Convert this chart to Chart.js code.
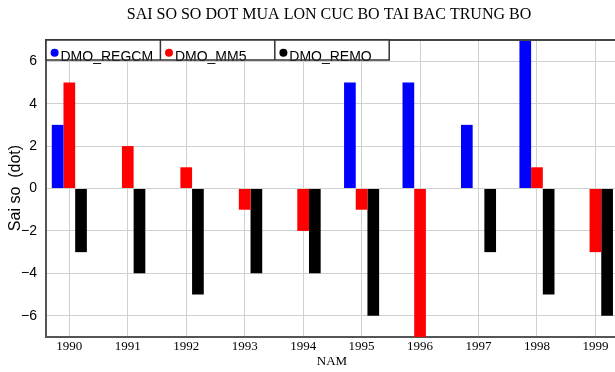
<!DOCTYPE html>
<html>
<head>
<meta charset="utf-8">
<script src="https://cdn.jsdelivr.net/npm/chart.js@4"></script>
<style>
  html, body { margin: 0; padding: 0; background: #fff; }
  #wrap { width: 615px; height: 372px; }
</style>
</head>
<body>
<div id="wrap"><canvas id="c" width="615" height="372"></canvas></div>
<script>
// Error of heavy-rain episode counts, North Central Coast (Bac Trung Bo)
const years = [1990, 1991, 1992, 1993, 1994, 1995, 1996, 1997, 1998, 1999];
const regcm = [3, 0, 0, 0, 0, 5, 5, 3, 7, 0];
const mm5   = [5, 2, 1, -1, -2, -1, -7, 0, 1, -3];
const remo  = [-3, -4, -5, -4, -4, -6, 0, -3, -5, -6];
const yTicks = [-6, -4, -2, 0, 2, 4, 6];
const seriesNames = ['DMO_REGCM', 'DMO_MM5', 'DMO_REMO'];
const seriesColors = ['#0000ff', '#ff0000', '#000000'];
const titleText = 'SAI SO SO DOT MUA LON CUC BO TAI BAC TRUNG BO';
const xTitle = 'NAM';
const yTitle = 'Sai so  (dot)';

const toPoints = arr => arr.map((v, i) => ({ x: years[i], y: v }));

const frame = {
  id: 'frame',
  afterDatasetsDraw(chart) {
    const { ctx, chartArea: a } = chart;
    ctx.save();
    // top border of plot
    ctx.strokeStyle = '#444';
    ctx.lineWidth = 2;
    ctx.beginPath();
    ctx.moveTo(a.left - 1, a.top);
    ctx.lineTo(a.right, a.top);
    ctx.stroke();

    // boxed legend along the top edge
    const boxL = a.left, boxT = a.top, boxH = 20, cellW = 114.4;
    ctx.fillStyle = '#fff';
    ctx.fillRect(boxL, boxT, cellW * 3, boxH);
    ctx.font = '14px "Liberation Sans", Arial, sans-serif';
    ctx.textBaseline = 'alphabetic';
    ctx.textAlign = 'left';
    seriesNames.forEach((name, i) => {
      const x0 = boxL + i * cellW;
      ctx.fillStyle = seriesColors[i];
      ctx.beginPath();
      ctx.arc(x0 + 8.6, boxT + 12.7, 4, 0, Math.PI * 2);
      ctx.fill();
      ctx.fillStyle = '#000';
      ctx.fillText(name, x0 + 14.5, boxT + 20.5);
    });
    ctx.strokeStyle = '#333';
    ctx.lineWidth = 1.5;
    ctx.strokeRect(boxL, boxT, cellW * 3, boxH);
    ctx.beginPath();
    for (let i = 1; i < 3; i++) {
      ctx.moveTo(boxL + i * cellW, boxT);
      ctx.lineTo(boxL + i * cellW, boxT + boxH);
    }
    ctx.stroke();

    // titles
    ctx.fillStyle = '#000';
    ctx.textAlign = 'center';
    ctx.textBaseline = 'middle';
    ctx.font = '16px "Liberation Serif", "Times New Roman", serif';
    ctx.fillText(titleText, 329, 15);
    ctx.font = '13px "Liberation Serif", "Times New Roman", serif';
    ctx.fillText(xTitle, 332, 362);
    ctx.save();
    ctx.translate(16, 188);
    ctx.rotate(-Math.PI / 2);
    ctx.font = '16px "Liberation Sans", Arial, sans-serif';
    ctx.fillText(yTitle, 0, 0);
    ctx.restore();
    ctx.restore();
  }
};

new Chart(document.getElementById('c'), {
  type: 'bar',
  data: {
    datasets: [regcm, mm5, remo].map((arr, i) => ({
      label: seriesNames[i],
      data: toPoints(arr),
      backgroundColor: seriesColors[i],
      borderWidth: 0,
      barPercentage: 1,
      categoryPercentage: 0.6
    }))
  },
  options: {
    responsive: false,
    animation: false,
    layout: { padding: { top: 40, left: 0, right: 0, bottom: 0 } },
    plugins: { legend: { display: false }, title: { display: false }, tooltip: { enabled: false } },
    scales: {
      x: {
        type: 'linear',
        offset: false,
        min: 1989.601,
        max: 1999.335,
        afterBuildTicks: s => { s.ticks = years.map(v => ({ value: v })); },
        afterFit: s => { s.height = 35; },
        grid: { color: '#d0d0d0', lineWidth: 1, drawTicks: false, offset: false },
        border: { color: '#555', width: 2 },
        ticks: {
          padding: 2,
          color: '#000',
          font: { family: '"Liberation Serif", "Times New Roman", serif', size: 13 },
          callback: v => String(v),
          maxRotation: 0,
          autoSkip: false
        }
      },
      y: {
        min: -7,
        max: 7,
        afterBuildTicks: s => { s.ticks = yTicks.map(v => ({ value: v })); },
        afterFit: s => { s.width = 46; },
        grid: { color: '#d0d0d0', lineWidth: 1, drawTicks: false },
        border: { color: '#555', width: 2 },
        ticks: {
          padding: 9,
          color: '#000',
          font: { family: '"Liberation Sans", Arial, sans-serif', size: 14 },
          callback: v => (v < 0 ? '\u2212' + Math.abs(v) : String(v))
        }
      }
    }
  },
  plugins: [frame]
});
</script>
</body>
</html>
